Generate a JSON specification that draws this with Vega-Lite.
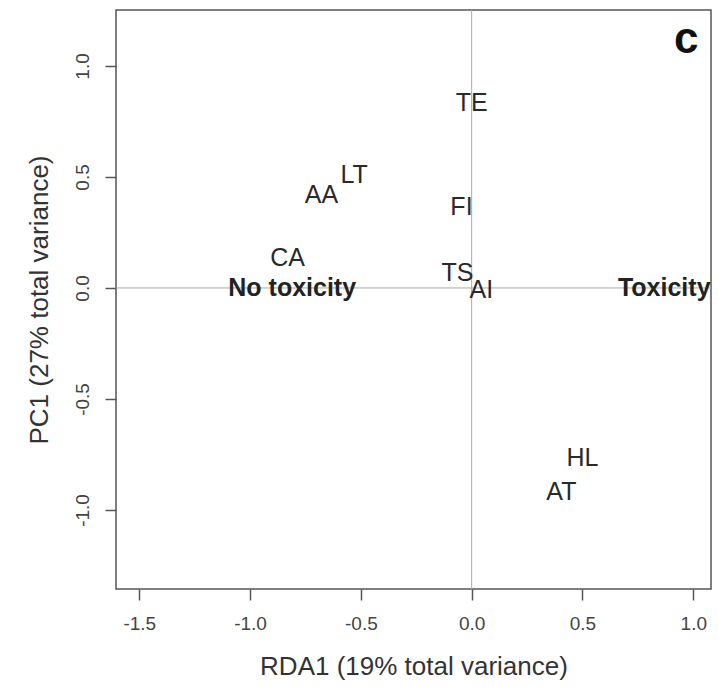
{
  "$schema": "https://vega.github.io/schema/vega-lite/v6.json",
  "width": 595,
  "height": 579,
  "autosize": {"type": "none"},
  "padding": {"left": 116, "top": 10, "right": 7, "bottom": 101},
  "background": "white",
  "config": {
    "view": {"stroke": "#555555", "strokeWidth": 1.5},
    "font": "Liberation Sans",
    "axis": {
      "domain": false,
      "grid": false,
      "ticks": true,
      "tickSize": 11,
      "tickColor": "#555555",
      "tickWidth": 1.5,
      "labelFont": "Liberation Sans",
      "labelFontSize": 19,
      "labelColor": "#444444",
      "titleFont": "Liberation Sans",
      "titleFontSize": 26,
      "titleFontWeight": "normal",
      "titleColor": "#333333"
    }
  },
  "datasets": {
    "species": [
      {"label": "TE", "rda1": 0.0, "pc1": 0.833},
      {"label": "FI", "rda1": -0.046, "pc1": 0.365},
      {"label": "TS", "rda1": -0.064, "pc1": 0.068},
      {"label": "AI", "rda1": 0.044, "pc1": -0.01},
      {"label": "HL", "rda1": 0.5, "pc1": -0.766},
      {"label": "AT", "rda1": 0.405, "pc1": -0.919},
      {"label": "LT", "rda1": -0.53, "pc1": 0.509},
      {"label": "AA", "rda1": -0.678, "pc1": 0.419},
      {"label": "CA", "rda1": -0.831, "pc1": 0.135}
    ],
    "gradient": [
      {"label": "No toxicity", "rda1": -0.81, "pc1": 0},
      {"label": "Toxicity", "rda1": 0.869, "pc1": 0}
    ],
    "panel": [
      {"label": "c", "rda1": 0.968, "pc1": 1.117}
    ],
    "zero": [
      {"value": 0}
    ]
  },
  "layer": [
    {
      "data": {"name": "zero"},
      "mark": {"type": "rule", "color": "#aaaaaa", "strokeWidth": 1},
      "encoding": {
        "x": {
          "field": "value",
          "type": "quantitative",
          "scale": {"domain": [-1.605, 1.08], "nice": false, "zero": false},
          "axis": {
            "values": [-1.5, -1, -0.5, 0, 0.5, 1],
            "labelExpr": "datum.value < 0 ? '-' + format(-datum.value, '.1f') : format(datum.value, '.1f')",
            "labelPadding": 14,
            "titlePadding": 20,
            "title": "RDA1 (19% total variance)"
          }
        }
      }
    },
    {
      "data": {"name": "zero"},
      "mark": {"type": "rule", "color": "#aaaaaa", "strokeWidth": 1},
      "encoding": {
        "y": {
          "field": "value",
          "type": "quantitative",
          "scale": {"domain": [-1.356, 1.252], "nice": false, "zero": false},
          "axis": {
            "values": [-1, -0.5, 0, 0.5, 1],
            "labelExpr": "datum.value < 0 ? '-' + format(-datum.value, '.1f') : format(datum.value, '.1f')",
            "labelAngle": -90,
            "labelPadding": 13,
            "titlePadding": 21,
            "title": "PC1 (27% total variance)"
          }
        }
      }
    },
    {
      "data": {"name": "species"},
      "mark": {"type": "text", "font": "Liberation Sans", "fontSize": 25, "color": "#2a2a2a", "align": "center", "baseline": "middle"},
      "encoding": {
        "x": {"field": "rda1", "type": "quantitative"},
        "y": {"field": "pc1", "type": "quantitative"},
        "text": {"field": "label"}
      }
    },
    {
      "data": {"name": "gradient"},
      "mark": {"type": "text", "font": "Liberation Sans", "fontSize": 25, "fontWeight": "bold", "color": "#222222", "align": "center", "baseline": "middle"},
      "encoding": {
        "x": {"field": "rda1", "type": "quantitative"},
        "y": {"field": "pc1", "type": "quantitative"},
        "text": {"field": "label"}
      }
    },
    {
      "data": {"name": "panel"},
      "mark": {"type": "text", "font": "Liberation Sans", "fontSize": 44, "fontWeight": "bold", "color": "#111111", "align": "center", "baseline": "middle"},
      "encoding": {
        "x": {"field": "rda1", "type": "quantitative"},
        "y": {"field": "pc1", "type": "quantitative"},
        "text": {"field": "label"}
      }
    }
  ]
}
